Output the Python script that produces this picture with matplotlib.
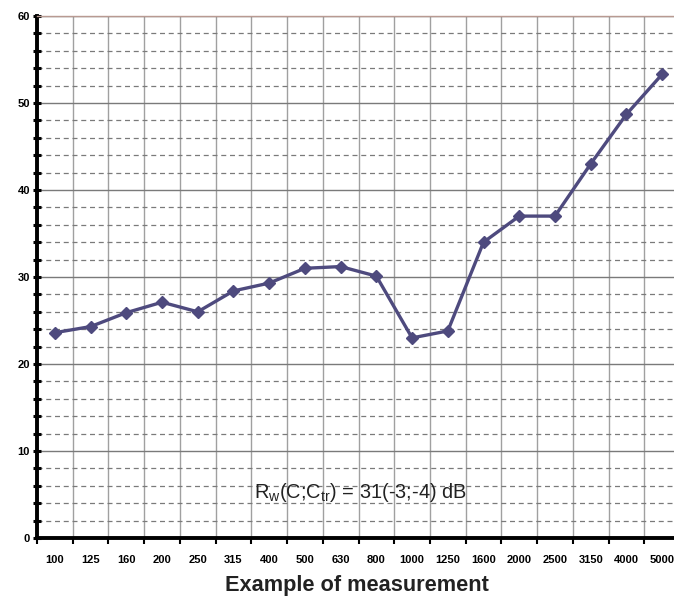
import matplotlib.pyplot as plt
from matplotlib.ticker import MultipleLocator

plt.rcParams['font.family'] = ['Liberation Sans Narrow', 'Liberation Sans', 'DejaVu Sans']
plt.rcParams['mathtext.fontset'] = 'custom'
plt.rcParams['mathtext.rm'] = 'Liberation Sans'
plt.rcParams['mathtext.it'] = 'Liberation Sans'
plt.rcParams['mathtext.default'] = 'regular'

# Frequency bands (Hz)
freqs = ["100", "125", "160", "200", "250", "315", "400", "500", "630",
         "800", "1000", "1250", "1600", "2000", "2500", "3150", "4000", "5000"]

# Measured sound reduction index (dB)
values = [23.6, 24.3, 25.9, 27.1, 26.0, 28.4, 29.3, 31.0, 31.2,
          30.1, 23.0, 23.8, 34.0, 37.0, 37.0, 43.0, 48.7, 53.3]

line_color = "#4e4a7e"

fig = plt.figure(figsize=(6.74, 6.0), dpi=100)
ax = fig.add_axes([37 / 674, 62 / 600, 643 / 674, 522 / 600])

x = list(range(len(freqs)))
ax.plot(x, values, color=line_color, linewidth=2.4, marker='D',
        markersize=6, zorder=5, clip_on=False)

ax.set_xlim(-0.5, len(freqs) - 0.5)
ax.set_ylim(0, 60)

# y ticks
ax.yaxis.set_major_locator(MultipleLocator(10))
ax.yaxis.set_minor_locator(MultipleLocator(2))
ax.tick_params(axis='y', which='major', direction='inout', length=6, width=2.2,
               labelsize=8, pad=2)
ax.tick_params(axis='y', which='minor', direction='inout', length=6, width=2.2)
for lab in ax.get_yticklabels():
    lab.set_fontweight('bold')

# x: category boundaries carry ticks & grid, labels at centres
ax.set_xticks([i - 0.5 for i in range(len(freqs) + 1)])
ax.set_xticklabels([])
ax.set_xticks(x, minor=True)
ax.set_xticklabels(freqs, minor=True, fontsize=8, fontweight='bold')
ax.tick_params(axis='x', which='major', direction='out', length=4, width=1.5)
ax.tick_params(axis='x', which='minor', length=0, pad=12)

# grid
ax.grid(axis='y', which='major', color='#7a7a7a', linewidth=1.0, linestyle='-')
ax.grid(axis='y', which='minor', color='#7a7a7a', linewidth=0.9, linestyle=(0, (4, 3)))
ax.grid(axis='x', which='major', color='#a0a0a0', linewidth=1.0, linestyle='-')
ax.set_axisbelow(True)

for side in ['left', 'bottom']:
    ax.spines[side].set_linewidth(2.8)
    ax.spines[side].set_color('black')
ax.spines['top'].set_color('#b89a92')
ax.spines['top'].set_linewidth(1.0)
ax.spines['right'].set_visible(False)

ax.text(8.54, 5.2, r'R$_w$(C;C$_{tr}$) = 31(-3;-4) dB', ha='center', va='center',
        fontsize=14.4, family=['Liberation Sans', 'DejaVu Sans'], color='#222222')

fig.text(357 / 674, 14 / 600, "Example of measurement", ha='center', va='center',
         fontsize=15.7, fontweight='bold', family=['Liberation Sans', 'DejaVu Sans'],
         color='#222222')

fig.savefig("out.png", dpi=100)
